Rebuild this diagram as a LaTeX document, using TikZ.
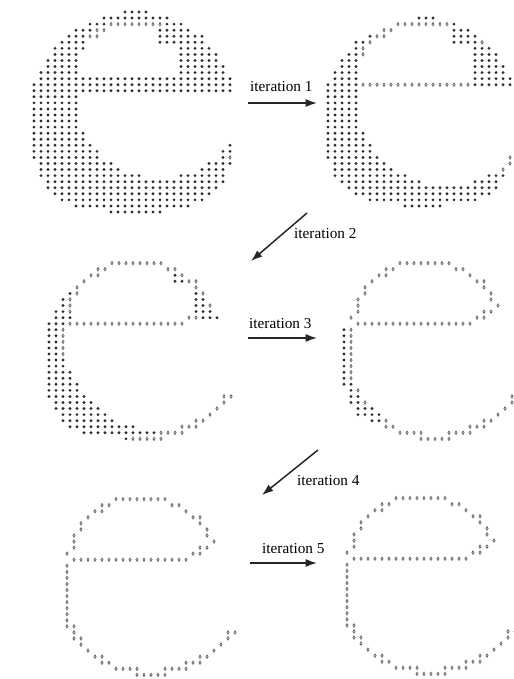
\documentclass[tikz,border=0pt]{standalone}
\usepackage{fontspec}
\setmainfont{Liberation Serif}
\usetikzlibrary{arrows.meta}

\tikzset{
  fulldot/.style={fill=black!82},
  opendot/.style={draw=black!60, line width=0.22mm},
  iterarrow/.style={-{Latex[length=3.4mm,width=2.4mm]}, line width=0.45mm, black!85},
  iterlabel/.style={font=\fontsize{13}{15}\selectfont, inner sep=0pt, anchor=base west},
}

% lattice point #1,#2 (in 1/100 px) inside the letter peeled by #3? -> \ins
\newcommand\inshape[3]{%
  \def\ins{0}%
  % outer outline
  \ifnum#1<13600 \edef\zoa{\the\numexpr10600-#3\relax}\else\edef\zoa{\the\numexpr10000-#3\relax}\fi
  \edef\zou{\the\numexpr(#1-13600)*1000/\zoa\relax}%
  \edef\zov{\the\numexpr(#2-11200)*1000/(10100-#3)\relax}%
  \edef\zuq{\the\numexpr\zou*\zou/1000\relax}%
  \edef\zvq{\the\numexpr\zov*\zov/1000\relax}%
  \ifnum#2<11200
    \edef\zfo{\the\numexpr\zuq+\zvq\relax}%
  \else
    \edef\zfo{\the\numexpr(4*(\zuq+\zvq)+6*(\zuq*\zuq/1000+\zvq*\zvq/1000))/10\relax}%
  \fi
  \ifnum\zfo<1000
    \def\ins{1}%
    % lower counter
    \ifnum#2>\numexpr9500-#3\relax
      \edef\zcu{\the\numexpr(#1-16000)*1000/(8300+#3)\relax}%
      \edef\zcv{\the\numexpr(#2-10000)*1000/(7800+#3)\relax}%
      \ifnum\numexpr\zcu*\zcu/1000+\zcv*\zcv/1000\relax<1000 \def\ins{0}\fi
    \fi
    % eye
    \ifnum#1>\numexpr8200-#3\relax
    \ifnum#2>\numexpr2700-#3\relax
    \ifnum#2<\numexpr7600+#3\relax
      \ifnum#2>4500 \def\zer{17700}\else\def\zer{15700}\fi
      \ifnum#1<\numexpr\zer+#3\relax
        \def\ins{0}%
        \ifnum#1<11800 \ifnum#2<5200
          \edef\zku{\the\numexpr(#1-11800)*1000/(3300+#3)\relax}%
          \edef\zkv{\the\numexpr(#2-5200)*1000/(2500+#3)\relax}%
          \ifnum\numexpr\zku*\zku/1000+\zkv*\zkv/1000\relax>999 \def\ins{1}\fi
        \fi\fi
      \fi
    \fi\fi\fi
  \fi}

% lattice point on the one-dot skeleton? -> \sk
\newcommand\onskel[2]{%
  \def\sk{0}%
  % left stem
  \ifnum#1>5650 \ifnum#1<6350 \ifnum#2>8800 \ifnum#2<14000 \def\sk{1}\fi\fi\fi\fi
  % lower arc
  \def\zok{0}%
  \ifnum#2>15600 \def\zok{1}\fi
  \ifnum#1<14400 \ifnum#2>14000 \def\zok{1}\fi\fi
  \ifnum\zok=1
    \ifnum#1<14400 \def\zla{8800}\else\def\zla{9500}\fi
    \edef\zlu{\the\numexpr(#1-14400)*1000/\zla\relax}%
    \edef\zlv{\the\numexpr(#2-11600)*1000/8200\relax}%
    \edef\zlr{\the\numexpr(\zlu*\zlu+\zlv*\zlv)/1000-1000\relax}%
    \ifnum\zlr<90 \ifnum\zlr>-90 \def\sk{1}\fi\fi
  \fi
  % upper arc
  \def\zok{0}%
  \ifnum#2<8400
    \ifnum#1<13600 \def\zok{1}\def\zua{7100}\else\def\zua{7400}\ifnum#2<6900 \def\zok{1}\fi\fi
  \fi
  \ifnum\zok=1
    \edef\zuu{\the\numexpr(#1-13600)*1000/\zua\relax}%
    \edef\zuv{\the\numexpr(#2-8300)*1000/6000\relax}%
    \edef\zur{\the\numexpr(\zuu*\zuu+\zuv*\zuv)/1000-1000\relax}%
    \ifnum\zur<100 \ifnum\zur>-95 \def\sk{1}\fi\fi
  \fi
  % bar
  \ifnum#1>6400 \ifnum#1<18700 \ifnum#2>7997 \ifnum#2<8603 \def\sk{1}\fi\fi\fi\fi
  % bowl back to bar
  \edef\zsg{\the\numexpr(-3143*(#1-20600)/700+2475*(#2-6800)/606)/16\relax}%
  \ifnum\zsg<0 \def\zsg{0}\fi
  \ifnum\zsg>1000 \def\zsg{1000}\fi
  \edef\zgx{\the\numexpr(#1-20600)*1000/700+3143*\zsg/1000\relax}%
  \edef\zgy{\the\numexpr(#2-6800)*1000/606-2475*\zsg/1000\relax}%
  \ifnum\numexpr\zgx*\zgx+\zgy*\zgy\relax<250000 \def\sk{1}\fi
}

% one stage: #1 = peeled depth (1/100 px), #2,#3 = where it sits
\newcommand\drawstage[3]{%
  \begin{scope}[shift={(34+#2,12+#3)}, x=2.1mm, y=-1.818mm]
    \foreach \i in {0,...,29}{%
      \foreach \j in {0,...,33}{%
        \edef\zX{\the\numexpr3400+700*\i\relax}%
        \edef\zY{\the\numexpr1200+606*\j\relax}%
        \onskel{\zX}{\zY}%
        \ifnum\sk=1
          \edef\ztb{\the\numexpr#1+350\relax}%
          \inshape{\zX}{\zY}{\ztb}%
          \ifnum\ins=1
            \fill[fulldot] (\i,\j) circle[radius=0.48mm];
          \else
            \draw[opendot] (\i,\j) ellipse[x radius=0.33mm, y radius=0.5mm];
          \fi
        \else
          \inshape{\zX}{\zY}{#1}%
          \ifnum\ins=1
            \fill[fulldot] (\i,\j) circle[radius=0.48mm];
          \fi
        \fi
      }}
  \end{scope}}

\begin{document}
\begin{tikzpicture}[x=0.3mm,y=-0.3mm]
  \useasboundingbox (0,0) rectangle (513,679);

  % the letter after each pass
  \drawstage{0}{0}{0}
  \drawstage{650}{287}{0}
  \drawstage{1300}{1}{239}
  \drawstage{2150}{289}{239}
  \drawstage{2600}{5}{475}
  \drawstage{3250}{285}{474}

  % arrow ends
  \coordinate (a1s) at (248,103);
  \coordinate (a1e) at (317,103);
  \coordinate (a2s) at (307,213);
  \coordinate (a2e) at (251,261);
  \coordinate (a3s) at (248,338);
  \coordinate (a3e) at (317,338);
  \coordinate (a4s) at (318,450);
  \coordinate (a4e) at (262,495);
  \coordinate (a5s) at (250,563);
  \coordinate (a5e) at (317,563);

  \draw[iterarrow] (a1s) -- (a1e);
  \draw[iterarrow] (a2s) -- (a2e);
  \draw[iterarrow] (a3s) -- (a3e);
  \draw[iterarrow] (a4s) -- (a4e);
  \draw[iterarrow] (a5s) -- (a5e);

  \node[iterlabel] (l1) at (250,92) {iteration 1};
  \node[iterlabel] (l2) at (294,238) {iteration 2};
  \node[iterlabel] (l3) at (249,328) {iteration 3};
  \node[iterlabel] (l4) at (297,485) {iteration 4};
  \node[iterlabel] (l5) at (262,553) {iteration 5};
\end{tikzpicture}
\end{document}
